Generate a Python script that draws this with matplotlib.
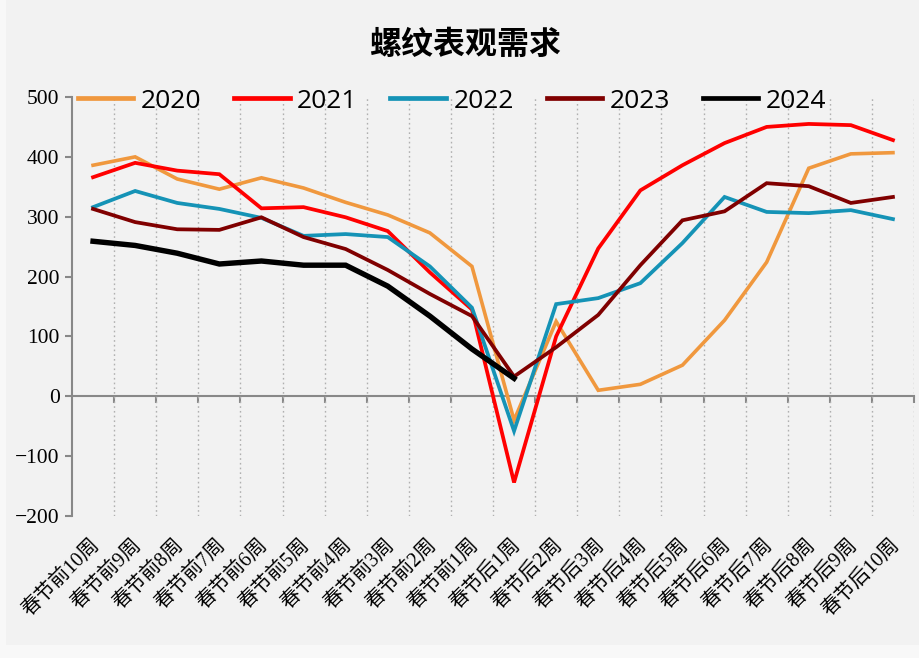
import numpy as np
import matplotlib
matplotlib.use('Agg')
import matplotlib.pyplot as plt
from matplotlib.patches import Rectangle
from matplotlib.transforms import ScaledTranslation

cats = ['春节前10周', '春节前9周', '春节前8周', '春节前7周', '春节前6周',
        '春节前5周', '春节前4周', '春节前3周', '春节前2周', '春节前1周',
        '春节后1周', '春节后2周', '春节后3周', '春节后4周', '春节后5周',
        '春节后6周', '春节后7周', '春节后8周', '春节后9周', '春节后10周']

y2020 = [386, 400, 363, 346, 365, 348, 324, 303, 273, 217,
         -40, 125, 10, 20, 52, 127, 224, 381, 405, 407]
y2021 = [366, 390, 377, 371, 314, 316, 299, 276, 207, 145,
         -144, 100, 247, 344, 386, 423, 450, 455, 453, 428]
y2022 = [316, 343, 323, 313, 298, 268, 271, 266, 217, 148,
         -58, 154, 164, 189, 256, 333, 308, 306, 311, 296]
y2023 = [313, 291, 279, 278, 299, 266, 246, 211, 171, 134,
         33, 82, 136, 219, 294, 309, 356, 351, 323, 333]
y2024 = [259, 252, 239, 221, 226, 219, 219, 184, 134, 79, 30]

series = [('2020', y2020, '#F0983E', 2.6),
          ('2021', y2021, '#FF0000', 2.7),
          ('2022', y2022, '#1593B6', 2.7),
          ('2023', y2023, '#800000', 2.7),
          ('2024', y2024, '#000000', 3.9)]

bg = '#F2F2F2'
fig = plt.figure(figsize=(9.19, 6.58), dpi=100, facecolor='#F8F8F8')
fig.patches.append(Rectangle((6 / 919, 13 / 658), 913 / 919, 645 / 658,
                             transform=fig.transFigure, facecolor=bg,
                             edgecolor='none', zorder=-10))
ax = fig.add_axes([72 / 919, 142 / 658, 842 / 919, 419 / 658])
ax.set_facecolor(bg)

x = np.arange(len(cats))
for name, vals, col, lw in series:
    ax.plot(x[:len(vals)], vals, color=col, lw=lw, label=name,
            solid_joinstyle='miter', zorder=3)

ax.set_xlim(-0.5, len(cats) - 0.5)
ax.set_ylim(-200, 500)
ax.set_yticks(np.arange(-200, 501, 100))

bounds = np.arange(0.5, len(cats), 1.0)
ax.vlines(bounds, -200, 500, colors='#B0B0B0', linestyles=(0, (1.2, 2.2)),
          lw=1.0, zorder=1)

for s in ['top', 'right', 'bottom']:
    ax.spines[s].set_visible(False)
ax.spines['left'].set_color('#888888')
ax.spines['left'].set_linewidth(1.5)
ax.tick_params(axis='y', direction='out', length=5, width=1.5, color='#888888',
               labelsize=15.5, pad=4)
for lab in ax.get_yticklabels():
    lab.set_family('Liberation Serif')

ax.set_xticks(x)
ax.set_xticklabels(cats, rotation=45, ha='right', rotation_mode='default',
                   family=['Liberation Serif', 'Noto Sans CJK SC'], fontsize=14.5)
ax.tick_params(axis='x', length=0, pad=14)
shift = ScaledTranslation(10 / 100, 0, fig.dpi_scale_trans)
for lab in ax.get_xticklabels():
    lab.set_transform(lab.get_transform() + shift)

# zero axis line with boundary ticks
sec = ax.secondary_xaxis(200 / 700)
sec.set_xticks(bounds)
sec.set_xticklabels([])
sec.tick_params(direction='out', length=5, width=1.5, color='#888888')
sec.spines['bottom'].set_color('#888888')
sec.spines['bottom'].set_linewidth(1.5)

leg = ax.legend(loc='center left', bbox_to_anchor=(0.007, 0.99), ncol=5,
                frameon=False, handlelength=2.1, handletextpad=0.28,
                columnspacing=1.25, borderaxespad=0, borderpad=0,
                prop={'family': 'Open Sans', 'size': 19})
for h in leg.get_lines():
    h.set_linewidth(3.4)

fig.text(0.506, 0.932, '螺纹表观需求', ha='center', va='center', fontsize=23,
         fontweight='bold', family='Noto Sans CJK SC')

fig.savefig('out.png', dpi=100, facecolor=fig.get_facecolor())
